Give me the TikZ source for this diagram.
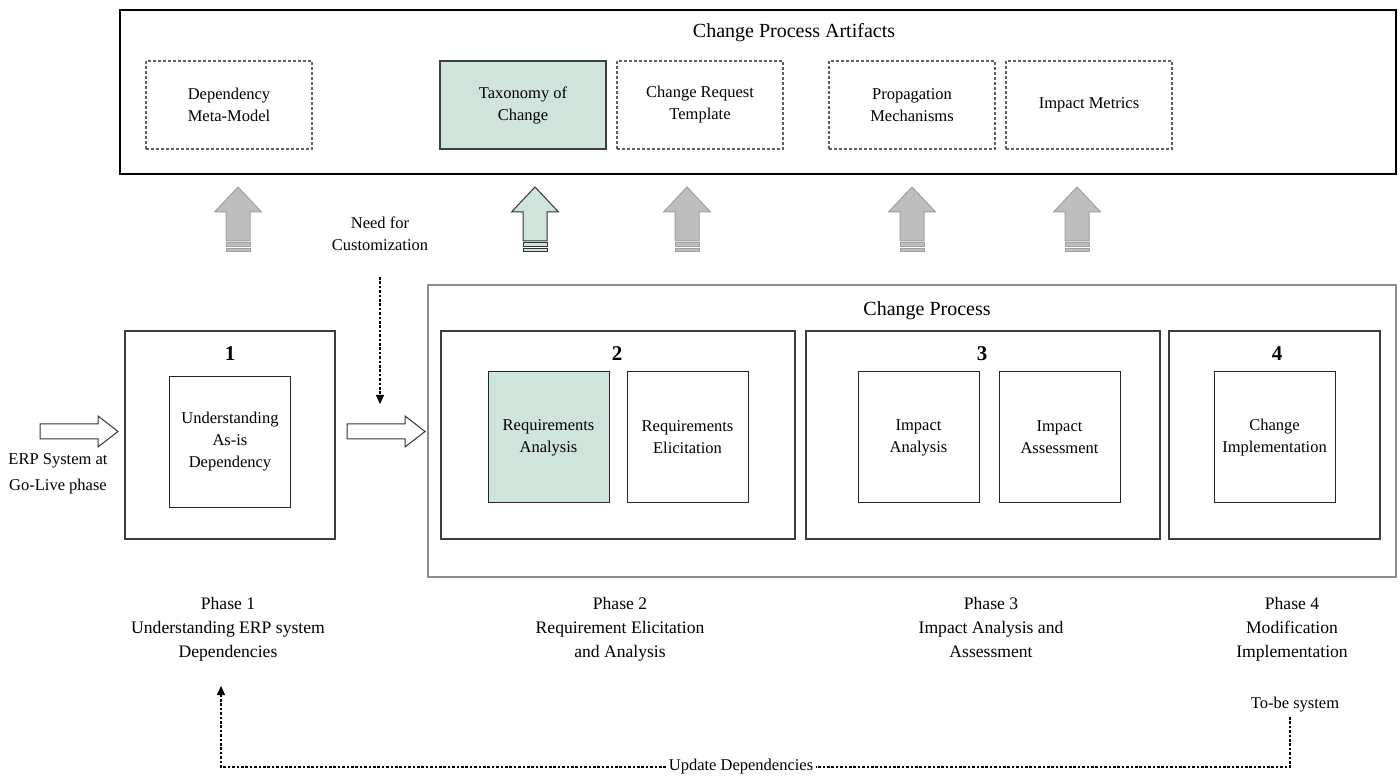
\documentclass[tikz,border=0pt]{standalone}
\usepackage{fontspec}
\setmainfont{Liberation Serif}
\usetikzlibrary{arrows.meta}
\definecolor{mint}{RGB}{207,228,219}
\definecolor{arrgray}{RGB}{190,190,190}
\definecolor{arredge}{RGB}{160,160,160}
\definecolor{dashgray}{RGB}{95,95,95}
\definecolor{cpgray}{RGB}{140,140,140}
\definecolor{phgray}{RGB}{60,60,60}
\begin{document}
\begin{tikzpicture}[x=0.5pt,y=-0.5pt,
  boxtext/.style={font=\fontsize{8.25}{11}\selectfont, align=center, inner sep=0pt},
  titletext/.style={font=\fontsize{10}{12}\selectfont, inner sep=0pt},
  numtext/.style={font=\fontsize{10.5}{12}\selectfont\bfseries, inner sep=0pt},
  phaselabel/.style={font=\fontsize{8.8}{12}\selectfont, align=center, inner sep=0pt, anchor=north},
  outerbox/.style={draw=black, line width=0.75pt, minimum width=638pt, minimum height=82pt, inner sep=0pt},
  cpbox/.style={draw=cpgray, line width=0.75pt, minimum width=484pt, minimum height=146pt, inner sep=0pt},
  phasebox/.style={draw=phgray, line width=0.55pt, minimum height=104pt, inner sep=0pt},
  artifact/.style={boxtext, draw=dashgray, line width=0.6pt, dash pattern=on 1.5pt off 1pt, minimum width=83pt, minimum height=44pt},
  activity/.style={boxtext, draw=black!85, line width=0.5pt, minimum width=60.5pt, minimum height=65.5pt},
  dotconn/.style={draw=black, line width=0.6pt, dash pattern=on 1.3pt off 0.9pt},
  tipend/.style={-{Triangle[length=4.5pt,width=4pt]}},
  whitearrow/.style={draw=black!80, fill=white, line width=0.5pt},
  uparrow/.pic={
    \path[pic actions] (-12,241) -- (-12,212) -- (-23.5,212) -- (0,187) -- (23.5,212) -- (12,212) -- (12,241) -- cycle;
    \path[pic actions] (-12,243) rectangle (12,247);
    \path[pic actions] (-12,249) rectangle (12,252);
  }
]
\useasboundingbox (0,0) rectangle (1400,779);

% ---- Change Process Artifacts ----
\node[outerbox] (art) at (758,92) {};
\node[titletext] (arttitle) at (794,33) {Change Process Artifacts};
\node[artifact] (dep) at (229,105) {Dependency\\Meta-Model};
\node[artifact, solid, fill=mint, draw=black!75] (tax) at (523,105) {Taxonomy of\\Change};
\node[artifact] (crt) at (700,105) {Change Request\\Template};
\node[artifact] (prop) at (912,105) {Propagation\\Mechanisms};
\node[artifact] (met) at (1089,105) {Impact Metrics};

% ---- up arrows ----
\pic[fill=arrgray, draw=arredge, line width=0.5pt] at (238,0) {uparrow};
\pic[fill=mint, draw=black!80, line width=0.5pt] at (535,0) {uparrow};
\pic[fill=arrgray, draw=arredge, line width=0.5pt] at (687,0) {uparrow};
\pic[fill=arrgray, draw=arredge, line width=0.5pt] at (912,0) {uparrow};
\pic[fill=arrgray, draw=arredge, line width=0.5pt] at (1077,0) {uparrow};

% ---- need for customization ----
\node[boxtext] (need) at (380,234) {Need for\\Customization};
\coordinate (ns) at (380,277);
\coordinate (ne) at (380,404);
\draw[dotconn, tipend] (ns) -- (ne);

% ---- Change Process ----
\node[cpbox] (cp) at (912,431) {};
\node[titletext] (cptitle) at (927,311) {Change Process};

\node[phasebox, minimum width=105pt] (p1) at (230,435) {};
\node[phasebox, minimum width=177pt] (p2) at (618,435) {};
\node[phasebox, minimum width=177pt] (p3) at (983,435) {};
\node[phasebox, minimum width=105.5pt] (p4) at (1274.5,435) {};

\node[numtext] (n1) at (230,354) {1};
\node[numtext] (n2) at (617,354) {2};
\node[numtext] (n3) at (982,354) {3};
\node[numtext] (n4) at (1277,354) {4};

\node[activity] (asis) at (230,442) {Understanding\\As-is\\Dependency};
\node[activity, fill=mint] (ra) at (548.5,437.5) {Requirements\\Analysis};
\node[activity] (re) at (687.5,437.5) {Requirements\\Elicitation};
\node[activity] (ia) at (918.5,437.5) {Impact\\Analysis};
\node[activity] (ias) at (1059.5,437.5) {Impact\\Assessment};
\node[activity] (ci) at (1274.5,437.5) {Change\\Implementation};

% ---- white block arrows ----
\draw[whitearrow] (40,424) -- (98,424) -- (98,416) -- (118,431.5) -- (98,447) -- (98,439) -- (40,439) -- cycle;
\draw[whitearrow] (347,424) -- (405,424) -- (405,416) -- (425,431.5) -- (405,447) -- (405,439) -- (347,439) -- cycle;

\node[boxtext, font=\fontsize{8.25}{13}\selectfont] (erp) at (58,474) {ERP System at\\Go-Live phase};

% ---- phase labels ----
\node[phaselabel] (ph1) at (228,597) {Phase 1\\Understanding ERP system\\Dependencies};
\node[phaselabel] (ph2) at (620,597) {Phase 2\\Requirement Elicitation\\and Analysis};
\node[phaselabel] (ph3) at (991,597) {Phase 3\\Impact Analysis and\\Assessment};
\node[phaselabel] (ph4) at (1292,597) {Phase 4\\Modification\\Implementation};

% ---- feedback loop ----
\node[boxtext] (tobe) at (1295,705) {To-be system};
\coordinate (t1) at (1290,717);
\node[boxtext, fill=white, inner sep=1.2pt] (upd) at (741,767) {Update Dependencies};
\coordinate (a2) at (221,686);
\draw[dotconn] (t1) |- (upd.east);
\draw[dotconn, tipend] (upd.west) -| (a2);
\end{tikzpicture}
\end{document}
